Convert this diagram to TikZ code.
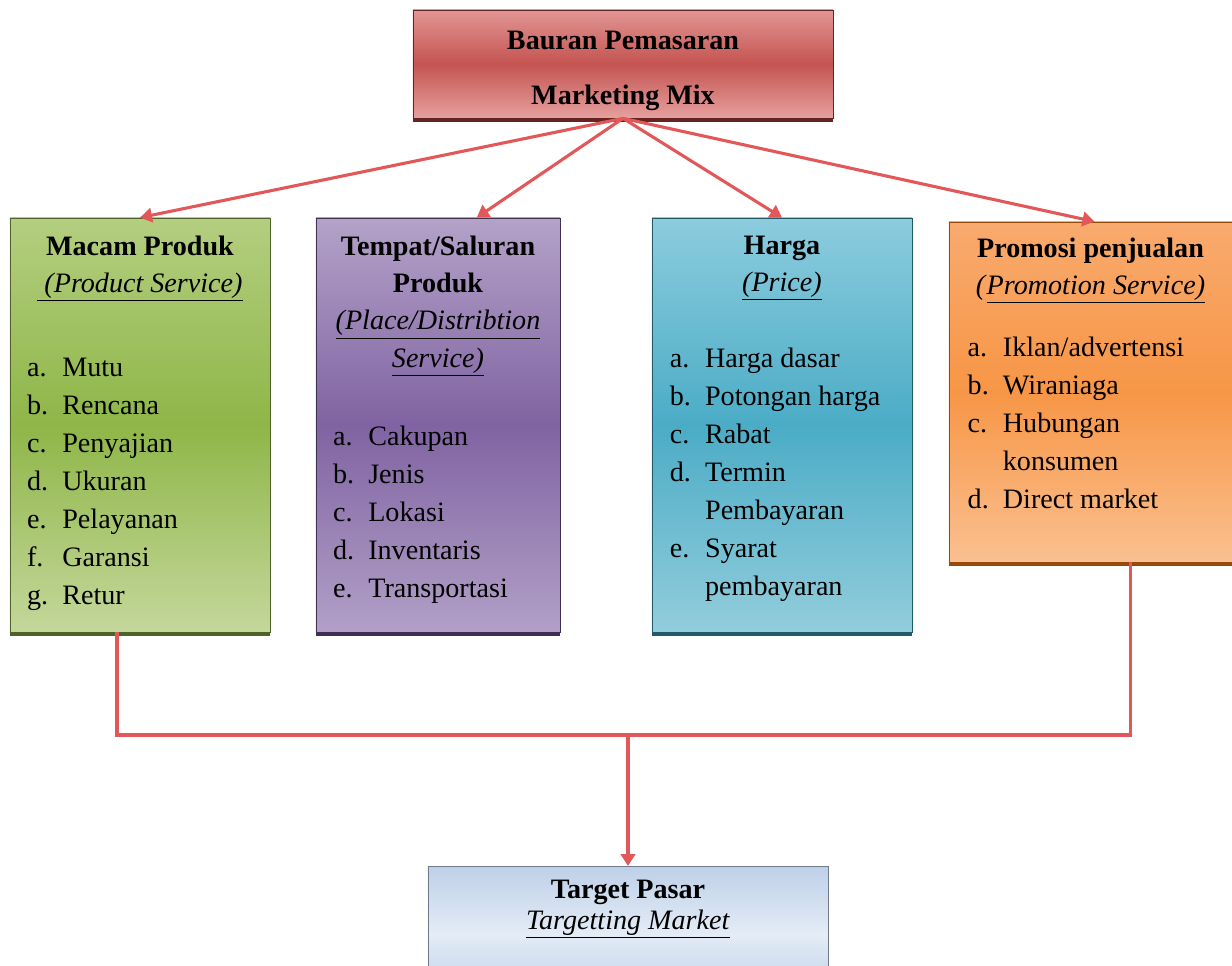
\documentclass[tikz,border=0pt]{standalone}
\usepackage{fontspec}
\setmainfont{Liberation Serif}
\usetikzlibrary{positioning,arrows.meta,shadows}

\definecolor{linkred}{RGB}{226,88,88}
\definecolor{redA}{RGB}{226,150,148}
\definecolor{redB}{RGB}{196,84,81}
\definecolor{redS}{RGB}{99,36,35}
\definecolor{greenA}{RGB}{180,206,128}
\definecolor{greenB}{RGB}{143,182,72}
\definecolor{greenC}{RGB}{196,215,155}
\definecolor{greenS}{RGB}{79,98,40}
\definecolor{purpleA}{RGB}{180,162,200}
\definecolor{purpleB}{RGB}{128,99,162}
\definecolor{purpleC}{RGB}{178,160,199}
\definecolor{purpleS}{RGB}{63,49,81}
\definecolor{cyanA}{RGB}{140,204,222}
\definecolor{cyanB}{RGB}{75,172,198}
\definecolor{cyanC}{RGB}{146,205,220}
\definecolor{cyanS}{RGB}{33,89,104}
\definecolor{orangeA}{RGB}{249,170,110}
\definecolor{orangeB}{RGB}{247,150,70}
\definecolor{orangeC}{RGB}{250,192,144}
\definecolor{orangeS}{RGB}{152,72,7}
\definecolor{blueA}{RGB}{190,208,232}
\definecolor{blueB}{RGB}{228,236,246}
\definecolor{blueC}{RGB}{185,205,229}

\newcommand{\itemlist}[1]{\begin{tabular}{@{}p{0.88cm}@{}l@{}}#1\end{tabular}}

\begin{document}
\begin{tikzpicture}[x=0.025cm, y=-0.025cm,
    every node/.style={font=\fontsize{20}{27}\selectfont, inner sep=0pt},
    box/.style={rectangle, draw=#1, line width=0.5pt,
      drop shadow={shadow xshift=0.3pt, shadow yshift=-3pt, fill=#1, opacity=1}},
    head/.style={align=center, font=\fontsize{20}{26.5}\selectfont},
    link/.style={draw=linkred, line width=2.2pt},
    tip/.style={-{Triangle[length=0.3cm, width=0.36cm]}}]
    \useasboundingbox (0,0) rectangle (1232,966);

    \node (Mix) [box=redS, minimum width=10.5cm, minimum height=2.7cm,
      top color=redA, bottom color=redA!90!white, middle color=redB,
      align=center, text height=58pt, text depth=0pt,
      font=\fontsize{20}{39}\selectfont\bfseries] at (623,64)
      {Bauran Pemasaran\\Marketing Mix};

    \node (Product) [box=greenS, minimum width=6.5cm, minimum height=10.35cm,
      top color=greenA, bottom color=greenC, middle color=greenB] at (140,425) {};
    \node (Place) [box=purpleS, minimum width=6.1cm, minimum height=10.35cm,
      top color=purpleA, bottom color=purpleC, middle color=purpleB] at (438,425) {};
    \node (Price) [box=cyanS, minimum width=6.5cm, minimum height=10.35cm,
      top color=cyanA, bottom color=cyanC, middle color=cyanB] at (782,425) {};
    \node (Promo) [box=orangeS, minimum width=7.075cm, minimum height=8.5cm,
      top color=orangeA, bottom color=orangeC, middle color=orangeB] at (1090.5,392) {};

    % headings
    \node (ProductHead) [head, below=0.45cm of Product.north]
      {\textbf{Macam Produk}\\\underline{\textit{~(Product Service)}}};
    \node (PlaceHead) [head, below=0.45cm of Place.north]
      {\textbf{Tempat/Saluran}\\\textbf{Produk}\\\underline{\textit{(Place/Distribtion}}\\\underline{\textit{Service)}}};
    \node (PriceHead) [head, below=0.45cm of Price.north]
      {\textbf{Harga}\\\underline{\textit{(Price)}}};
    \node (PromoHead) [head, below=0.4cm of Promo.north]
      {\textbf{Promosi penjualan}\\\textit{(}\underline{\textit{Promotion Service)}}};

    % lists
    \node (ProductList) [below right=3.3cm and 0.43cm of Product.north west]
      {\itemlist{a. & Mutu\\ b. & Rencana\\ c. & Penyajian\\ d. & Ukuran\\
        e. & Pelayanan\\ f. & Garansi\\ g. & Retur}};
    \node (PlaceList) [below right=5.03cm and 0.43cm of Place.north west]
      {\itemlist{a. & Cakupan\\ b. & Jenis\\ c. & Lokasi\\ d. & Inventaris\\
        e. & Transportasi}};
    \node (PriceList) [below right=3.08cm and 0.45cm of Price.north west]
      {\itemlist{a. & Harga dasar\\ b. & Potongan harga\\ c. & Rabat\\
        d. & Termin\\ & Pembayaran\\ e. & Syarat\\ & pembayaran}};
    \node (PromoList) [below right=2.7cm and 0.47cm of Promo.north west]
      {\itemlist{a. & Iklan/advertensi\\ b. & Wiraniaga\\ c. & Hubungan\\
        & konsumen\\ d. & Direct market}};

    \node (Target) [box=blueC!60!black, minimum width=10cm, minimum height=3.4cm,
      anchor=north, top color=blueA, bottom color=blueC, middle color=blueB] at (628,866) {};
    \node (TargetText) [head, font=\fontsize{20}{22}\selectfont, below=0.35cm of Target.north]
      {\textbf{Target Pasar}\\\underline{\textit{Targetting Market}}};

    \coordinate (Join) at (628,735);

    \draw[link, tip] (Mix.south) -- (Product.north);
    \draw[link, tip] (Mix.south) -- ([xshift=0.97cm]Place.north);
    \draw[link, tip] (Mix.south) -- (Price.north);
    \draw[link, tip] (Mix.south) -- ([xshift=0.1cm]Promo.north);

    \draw[link] ([xshift=-0.575cm]Product.south) |- (Join) -| ([xshift=0.99cm]Promo.south);
    \draw[link, tip] (Join) -- (Target.north);
\end{tikzpicture}
\end{document}
